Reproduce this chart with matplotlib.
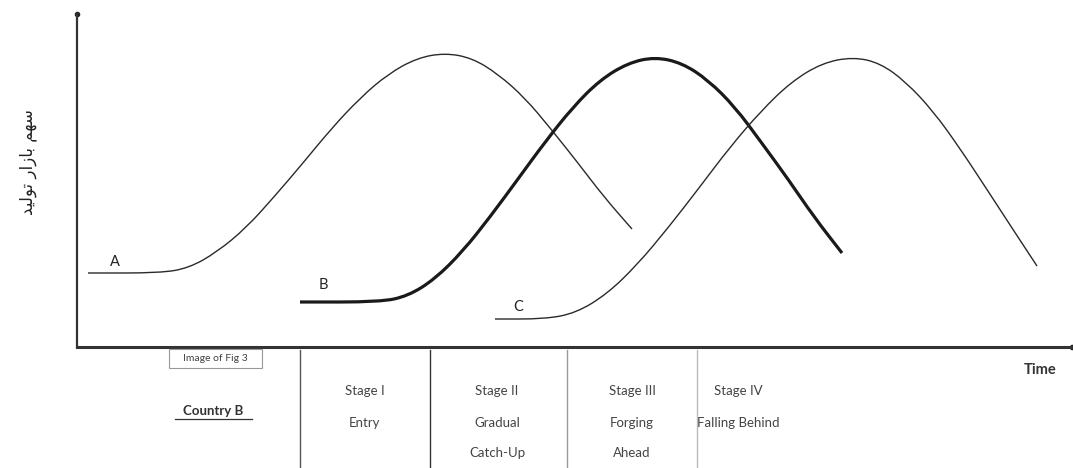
import matplotlib.pyplot as plt
from matplotlib.lines import Line2D
from matplotlib.patches import Rectangle, PathPatch
from matplotlib.path import Path

# market-share paths of three producers over time (arbitrary units)
a_time = [11, 83, 112, 140, 169, 197, 226, 254, 283, 311, 340, 368, 395, 421, 448, 474, 501, 527, 555]
a_share = [74, 74, 79, 95, 119, 150, 184, 218, 249, 273, 289, 294, 289, 273, 249, 218, 184, 150, 118]

b_time = [223, 303, 331, 358, 386, 413, 441, 468, 496, 523, 551, 578, 605, 631, 658, 684, 711, 737, 765]
b_share = [45, 45, 51, 68, 96, 130, 168, 205, 240, 267, 284, 290, 284, 267, 240, 205, 168, 130, 94]

c_time = [418, 468, 499, 530, 560, 591, 622, 653, 684, 714, 745, 776, 803, 829, 856, 882, 909, 935, 960]
c_share = [28, 28, 34, 53, 82, 119, 159, 200, 236, 265, 284, 290, 284, 265, 236, 200, 159, 119, 81]

curve_labels = ["A", "B", "C"]
label_time = [38, 246, 441]
label_share = [85, 62, 40]

stage_titles = ["Stage I", "Stage II", "Stage III", "Stage IV"]
stage_names = [["Entry"], ["Gradual", "Catch-Up"], ["Forging", "Ahead"], ["Falling Behind"]]

# y label "سهم بازار تولید" written with presentation forms in visual order
ylabel_text = "\uFEAA\uFEF4\uFEDF\uFEEE\uFE97 \uFEAD\uFE8D\uFEAF\uFE8E\uFE91 \uFEE2\uFEEC\uFEB3"

W, H = 1073, 468
plt.rcParams['font.family'] = ['Lato', 'DejaVu Sans']


def smooth_path(xs, ys):
    """Quadratic B-spline through the midpoints of the given points."""
    pts = list(zip(xs, ys))
    mids = [((x0 + x1) / 2, (y0 + y1) / 2) for (x0, y0), (x1, y1) in zip(pts[:-1], pts[1:])]
    verts = [pts[0], mids[0]]
    codes = [Path.MOVETO, Path.LINETO]
    for p, m in zip(pts[1:-1], mids[1:]):
        verts += [p, m]
        codes += [Path.CURVE3, Path.CURVE3]
    verts.append(pts[-1])
    codes.append(Path.LINETO)
    return Path(verts, codes)


fig = plt.figure(figsize=(W / 100, H / 100), dpi=100)
ax = fig.add_axes([77 / W, 121 / H, 996 / W, 333 / H])
ax.set_xlim(0, 996)
ax.set_ylim(0, 333)
ax.set_xticks([])
ax.set_yticks([])
for side in ("top", "right"):
    ax.spines[side].set_visible(False)
ax.spines["left"].set_linewidth(1.6)
ax.spines["bottom"].set_linewidth(2.2)
ax.spines["left"].set_color("#333333")
ax.spines["bottom"].set_color("#333333")

# small dots at the axis ends
ax.plot([0], [333], "o", ms=3, color="#222222", clip_on=False)
ax.plot([995], [0], "o", ms=3, color="#222222", clip_on=False)

for xs, ys, lw, col in [(a_time, a_share, 1.0, "#2a2a2a"),
                        (b_time, b_share, 2.3, "#1a1a1a"),
                        (c_time, c_share, 1.0, "#2a2a2a")]:
    ax.add_patch(PathPatch(smooth_path(xs, ys), fill=False, edgecolor=col,
                           lw=lw, capstyle="butt", joinstyle="round"))

for lab, t, s in zip(curve_labels, label_time, label_share):
    ax.text(t, s, lab, fontsize=10.5, ha="center", va="center", color="#222222")

fig.text(28 / W, 1 - 162 / H, ylabel_text, rotation=90, fontsize=12,
         ha="center", va="center", color="#222222", family=["DejaVu Sans"])

fig.text(1040 / W, 1 - 370 / H, "Time", fontsize=10.5, fontweight="bold",
         ha="center", va="center", color="#333333")


# stage table under the time axis
def fx(px):
    return px / W


def fy(py):
    return 1 - py / H


sep_x = [300, 430, 567, 697]
sep_col = ["#555555", "#333333", "#999999", "#bbbbbb"]
for x, col in zip(sep_x, sep_col):
    fig.add_artist(Line2D([fx(x), fx(x)], [fy(350), 0], transform=fig.transFigure,
                          color=col, lw=1.0))

fig.add_artist(Rectangle((fx(169), fy(368)), (262 - 169) / W, 19 / H,
                         transform=fig.transFigure, fill=False,
                         edgecolor="#999999", lw=0.8))
fig.text(fx(215), fy(358.5), "Image of Fig 3", fontsize=7.5, ha="center",
         va="center", color="#444444")
fig.text(fx(213), fy(411), "Country B", fontsize=9.5, fontweight="bold",
         ha="center", va="center", color="#333333")
fig.add_artist(Line2D([fx(175), fx(252)], [fy(419), fy(419)],
                      transform=fig.transFigure, color="#333333", lw=0.9))

stage_x = [365, 497, 632, 738]
for x, title, names in zip(stage_x, stage_titles, stage_names):
    fig.text(fx(x), fy(391), title, fontsize=9.5, ha="center", va="center",
             color="#444444")
    for i, name in enumerate(names):
        fig.text(fx(x), fy(423 + 30 * i), name, fontsize=9.5, ha="center",
                 va="center", color="#444444")

fig.savefig("out.png", dpi=100)
